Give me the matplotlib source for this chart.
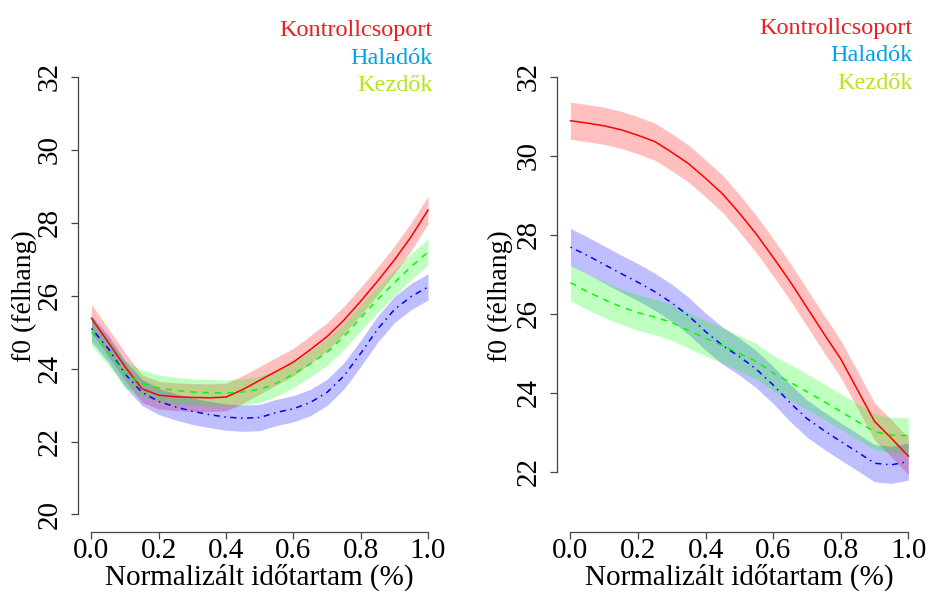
import matplotlib
matplotlib.use("Agg")
import matplotlib.pyplot as plt

plt.rcParams["font.family"] = ["Liberation Serif", "DejaVu Serif"]

# normalizált időtartam
t = [0.0, 0.05, 0.1, 0.15, 0.2, 0.25, 0.3, 0.35, 0.4, 0.45, 0.5,
     0.55, 0.6, 0.65, 0.7, 0.75, 0.8, 0.85, 0.9, 0.95, 1.0]

# bal panel
left_kontroll = [25.38, 24.72, 24.05, 23.45, 23.27, 23.23, 23.21, 23.20, 23.22, 23.43, 23.68,
                 23.93, 24.18, 24.52, 24.88, 25.33, 25.85, 26.40, 26.98, 27.62, 28.35]
left_haladok = [25.10, 24.55, 23.85, 23.35, 23.10, 22.95, 22.83, 22.74, 22.67, 22.64, 22.66,
                22.80, 22.90, 23.07, 23.35, 23.80, 24.42, 25.08, 25.62, 25.98, 26.24]
left_kezdok = [25.00, 24.45, 23.85, 23.60, 23.47, 23.40, 23.36, 23.34, 23.33, 23.36, 23.43,
               23.60, 23.85, 24.13, 24.45, 24.88, 25.40, 25.90, 26.36, 26.80, 27.20]
left_se = [0.38, 0.36, 0.36]

# jobb panel
right_kontroll = [30.89, 30.83, 30.76, 30.66, 30.52, 30.36, 30.09, 29.80, 29.43, 29.04, 28.55,
                  28.02, 27.43, 26.82, 26.16, 25.50, 24.86, 24.07, 23.28, 22.85, 22.40]
right_haladok = [27.69, 27.48, 27.25, 27.02, 26.80, 26.56, 26.28, 25.95, 25.55, 25.20, 24.92,
                 24.60, 24.20, 23.75, 23.35, 23.05, 22.77, 22.50, 22.22, 22.18, 22.26]
right_kezdok = [26.79, 26.56, 26.36, 26.18, 26.03, 25.92, 25.78, 25.58, 25.38, 25.20, 25.00,
                24.80, 24.50, 24.27, 24.03, 23.78, 23.53, 23.27, 23.02, 22.93, 22.92]
right_se = [0.47, 0.47, 0.45]

groups = ["Kontrollcsoport", "Haladók", "Kezdők"]
line_colors = ["#FF0000", "#0000FF", "#00FF00"]
line_styles = ["-", (0, (1, 3, 4, 3)), (0, (4, 4))]
text_colors = ["#ED1C24", "#00A2E8", "#B5E61D"]

xticks = [0.0, 0.2, 0.4, 0.6, 0.8, 1.0]
left_yticks = [20, 22, 24, 26, 28, 30, 32]
right_yticks = [22, 24, 26, 28, 30, 32]

fig = plt.figure(figsize=(9.3, 5.92), dpi=100)
ax1 = fig.add_axes([0.0839, 0.1014, 0.3908, 0.7981])
ax2 = fig.add_axes([0.5989, 0.1014, 0.3923, 0.7981])


def draw_panel(ax, series, se, yticks, ylim, ylab_x, legend_y):
    for i, y in enumerate(series):
        lo = [v - se[i] for v in y]
        hi = [v + se[i] for v in y]
        ax.fill_between(t, lo, hi, color=line_colors[i], alpha=0.25, lw=0)
        ax.plot(t, y, color=line_colors[i], lw=1.1, linestyle=line_styles[i])

    ax.set_xlim(-0.04, 1.04)
    ax.set_ylim(*ylim)
    ax.spines["top"].set_visible(False)
    ax.spines["right"].set_visible(False)
    ax.spines["left"].set_bounds(yticks[0], yticks[-1])
    ax.spines["bottom"].set_bounds(0, 1)
    for s in ["left", "bottom"]:
        ax.spines[s].set_color("#444444")
        ax.spines[s].set_linewidth(0.9)

    ax.set_xticks(xticks)
    ax.set_xticklabels(["%.1f" % v for v in xticks])
    ax.set_yticks(yticks)
    ax.tick_params(length=5, width=0.9, color="#444444", labelsize=21)
    ax.tick_params(axis="y", pad=6)
    ax.tick_params(axis="x", pad=-1)
    for lab in ax.get_yticklabels():
        lab.set_rotation(90)
        lab.set_va("center")

    ax.set_xlabel("Normalizált időtartam (%)", fontsize=21)
    ax.xaxis.set_label_coords(0.5, -0.068)
    ax.set_ylabel("f0 (félhang)", fontsize=20)
    ax.yaxis.set_label_coords(ylab_x, 0.5)

    for i, g in enumerate(groups):
        ax.text(0.975, legend_y[i], g, transform=ax.transAxes, ha="right",
                va="baseline", color=text_colors[i], fontsize=17.5, clip_on=False)


draw_panel(ax1, [left_kontroll, left_haladok, left_kezdok], left_se,
           left_yticks, (19.52, 32.48), -0.113, [1.0497, 0.9915, 0.9333])
draw_panel(ax2, [right_kontroll, right_haladok, right_kezdok], right_se,
           right_yticks, (20.48, 32.44), -0.121, [1.055, 0.9968, 0.9386])

fig.savefig("out.png", dpi=100)
